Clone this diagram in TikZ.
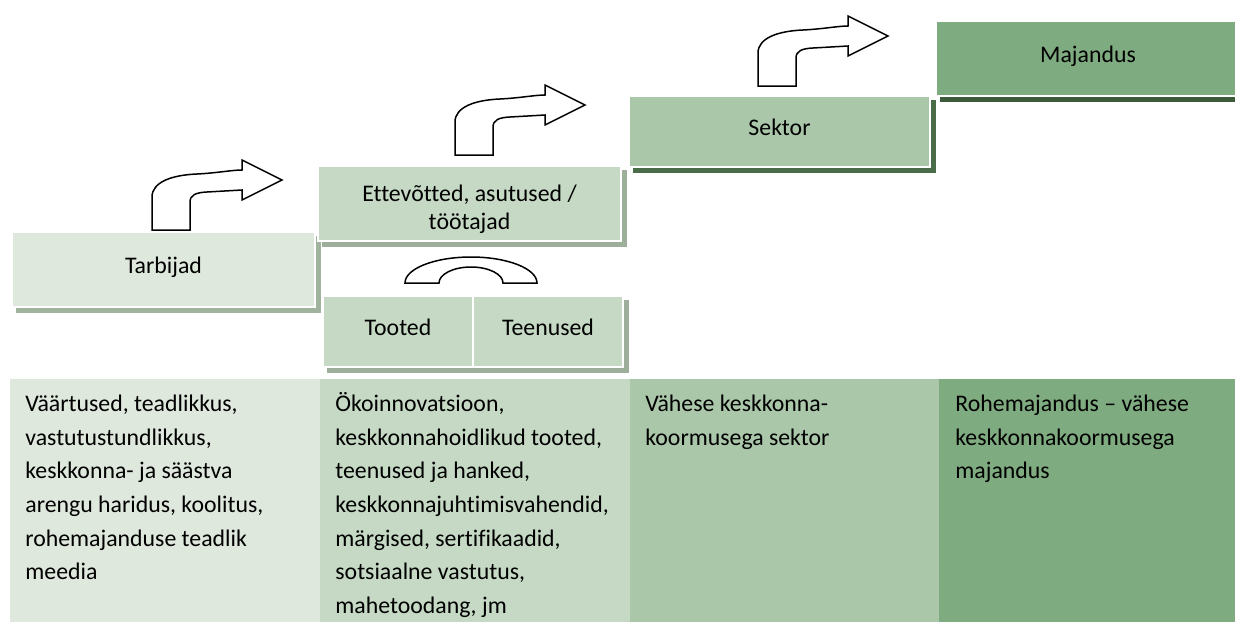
\documentclass[tikz,border=0pt]{standalone}
\usepackage{fontspec}
\setmainfont{Carlito}[Ligatures={TeX,CommonOff}]
\usetikzlibrary{backgrounds}

\definecolor{gA}{HTML}{DFE8DC}
\definecolor{gB}{HTML}{C5D9C4}
\definecolor{gC}{HTML}{AAC7AA}
\definecolor{gD}{HTML}{7FAB80}
\definecolor{sA}{HTML}{A1B29F}
\definecolor{sB}{HTML}{9DAE9B}
\definecolor{sC}{HTML}{4B6C48}
\definecolor{sD}{HTML}{3D5A3A}

\newcommand{\cellstrut}{\rule{0pt}{14pt}}

\tikzset{
  box/.style={draw=white, line width=0.6pt, inner sep=0pt, align=center,
    font=\fontsize{11.9}{14}\selectfont},
  oneline/.style={text height=9pt, text depth=5.3pt},
  celltext/.style={anchor=north west, inner sep=0pt, align=left,
    font=\fontsize{11.9}{16.85}\selectfont},
  bentarrow/.pic={
    \draw[line width=0.75pt, fill=white] (0,0) -- (0,-33) .. controls (0,-48) and (20,-55) .. (45,-56)
      .. controls (65,-57) and (80,-60) .. (90,-60) -- (90,-70) -- (130,-50) -- (90,-30) -- (90,-40)
      -- (55,-38) .. controls (44,-37.5) and (38,-35) .. (38,-28) -- (38,0) -- cycle;
  }
}

\begin{document}
\begin{tikzpicture}[x=0.5pt,y=-0.5pt]
\useasboundingbox (0,0) rectangle (1235,622);

% upper steps
\node[box, oneline, fill=gA, minimum width=151.5pt, minimum height=37.5pt] (tarbijad) at (163.5,269.5) {Tarbijad};
\node[box, fill=gB, minimum width=151.5pt, minimum height=37.5pt] (ettevotted) at (469.5,203.5) {\rule{0pt}{13.9pt}Ettevõtted, asutused /\\töötajad};
\node[box, oneline, fill=gC, minimum width=150.5pt, minimum height=35.5pt] (sektor) at (779.5,131.5) {Sektor};
\node[box, oneline, fill=gD, minimum width=152pt, minimum height=37.5pt] (majandus) at (1088,58.5) {Majandus};

\node[box, oneline, fill=gB, line width=1pt, minimum width=75pt, minimum height=35.5pt] (tooted) at (398,331.5) {Tooted};
\node[box, oneline, fill=gB, line width=1pt, minimum width=75pt, minimum height=35.5pt] (teenused) at (548,331.5) {Teenused};

\begin{scope}[on background layer]
\fill[sA] ([shift={(2.5pt,-2.5pt)}]tarbijad.south west) rectangle ([shift={(2.5pt,-2.5pt)}]tarbijad.north east);
\fill[sB] ([shift={(2.5pt,-2.5pt)}]ettevotted.south west) rectangle ([shift={(2.5pt,-2.5pt)}]ettevotted.north east);
\fill[sC] ([shift={(2.5pt,-2.5pt)}]sektor.south west) rectangle ([shift={(2.5pt,-2.5pt)}]sektor.north east);
\fill[sD] ([shift={(2.5pt,-2.5pt)}]majandus.south west) rectangle ([shift={(2.5pt,-2.5pt)}]majandus.north east);
\fill[sB] ([shift={(2.5pt,-2.5pt)}]tooted.south west) rectangle ([shift={(2.5pt,-2.5pt)}]teenused.north east);
\end{scope}

% arrows
\pic at (152,230) {bentarrow};
\pic at (455,155) {bentarrow};
\pic at (758,86) {bentarrow};
\draw[line width=0.75pt, fill=white] (405,283) arc[start angle=180, end angle=360, x radius=66, y radius=26]
  -- (503,283) arc[start angle=0, end angle=-180, x radius=32, y radius=16] -- cycle;

% table
\fill[gA] (10,379) rectangle (320,622);
\fill[gB] (320,379) rectangle (630,622);
\fill[gC] (630,379) rectangle (939,622);
\fill[gD] (939,379) rectangle (1235,622);
\node[celltext] (vaartused) at (25,383) {\cellstrut Väärtused, teadlikkus,\\vastutustundlikkus,\\keskkonna- ja säästva\\arengu haridus, koolitus,\\rohemajanduse teadlik\\meedia};
\node[celltext] (oko) at (335,383) {\cellstrut Ökoinnovatsioon,\\keskkonnahoidlikud tooted,\\teenused ja hanked,\\keskkonnajuhtimisvahendid,\\märgised, sertifikaadid,\\sotsiaalne vastutus,\\mahetoodang, jm};
\node[celltext] (vahese) at (645,383) {\cellstrut Vähese keskkonna-\\koormusega sektor};
\node[celltext] (rohe) at (955,383) {\cellstrut Rohemajandus – vähese\\keskkonnakoormusega\\majandus};
\end{tikzpicture}
\end{document}
